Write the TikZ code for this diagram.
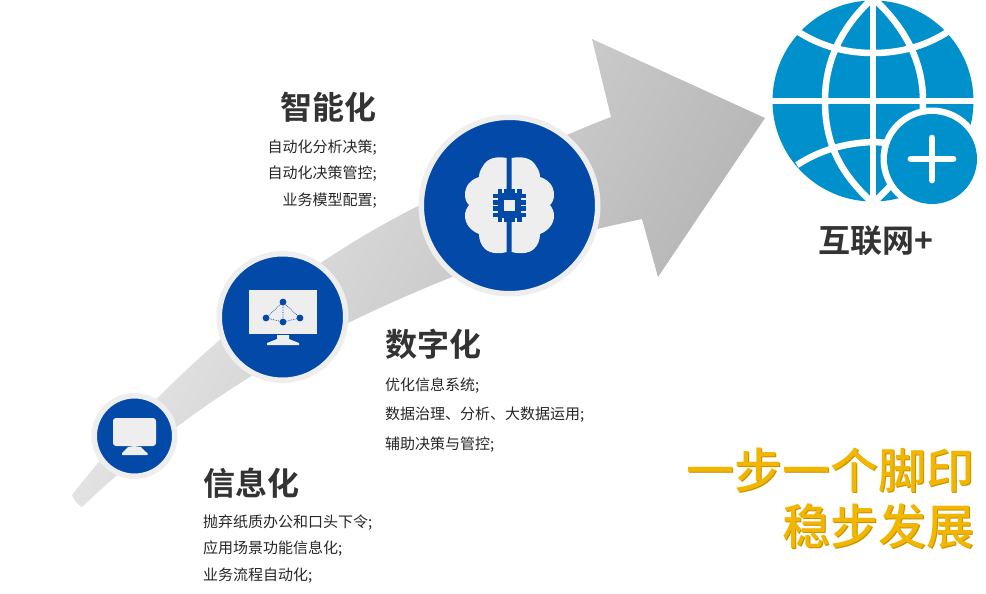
\documentclass[tikz,border=0pt]{standalone}
\usepackage{fontspec}
\setmainfont{Noto Sans CJK SC}
\newfontfamily\cjkb{Noto Sans CJK SC Bold}
\newfontfamily\cjkm{Noto Sans CJK SC Medium}
\usetikzlibrary{calc}
\definecolor{deep}{HTML}{0349A8}
\definecolor{ringc}{HTML}{EEEEEE}
\definecolor{globec}{HTML}{0090CC}
\definecolor{inkc}{HTML}{333333}
\definecolor{gold}{HTML}{F2B600}
\definecolor{goldd}{HTML}{C39200}
\tikzset{
  x=1pt,y=-1pt,
  head/.style={font=\cjkb\fontsize{32}{32}\selectfont,text=inkc,inner sep=0pt},
  small/.style={font=\fontsize{15}{15}\selectfont,text=black!85,inner sep=0pt},
  slogan/.style={font=\cjkm\fontsize{48}{48}\selectfont,text=gold,inner sep=0pt,anchor=east},
  sloganshade/.style={font=\cjkm\fontsize{48}{48}\selectfont,text=goldd,inner sep=0pt,anchor=east},
  badge/.style={circle,fill=deep,draw=ringc,inner sep=0pt},
  iconfill/.style={fill=ringc,draw=none},
  gline/.style={draw=white,line width=6.5pt},
}
\begin{document}
\begin{tikzpicture}
\useasboundingbox (0,0) rectangle (986,594);
% rising arrow
\shade[left color=black!7,middle color=black!26,right color=black!31,shading angle=62]
 (72,495) .. controls (150,395) and (270,280) .. (420,205)
 .. controls (480,175) and (550,140) .. (611,117)
 -- (592,39) -- (765,118) -- (658,277) -- (642,219)
 .. controls (600,228) and (520,245) .. (452,277)
 .. controls (300,338) and (190,405) .. (82,507)
 .. controls (78,505) and (74,500) .. (72,495) -- cycle;
% badges
\node[badge,line width=5.5pt,minimum size=176.5pt] (b3) at (509.5,205.5) {};
\node[badge,line width=5.5pt,minimum size=126.5pt] (b2) at (282.5,317) {};
\node[badge,line width=5.5pt,minimum size=80.5pt] (b1) at (134.5,436) {};
% monitor 1
\fill[iconfill,rounded corners=3pt] (113,418) rectangle (156,446);
\fill[iconfill] (128,447) -- (134,446) -- (141,447) -- (146,452) -- (147.5,453) -- (147.5,455) -- (122,455) -- (122,453) -- (123,452) -- cycle;
% monitor 2
\fill[iconfill] (249,290) rectangle (317,334);
\fill[iconfill] (277,335) -- (289,335) -- (289,339) -- (299,343) -- (299,345) -- (267,345) -- (267,343) -- (277,339) -- cycle;
\coordinate (n1) at (283,302);
\coordinate (n2) at (266,318);
\coordinate (n3) at (283,322);
\coordinate (n4) at (300,318);
\draw[deep,densely dotted,line width=.7pt] (n1) -- (n2) -- (n3) -- (n4) -- (n1) -- (n3);
\foreach \p in {n1,n2,n3,n4} \fill[deep] (\p) circle (3.4pt);
% brain
\fill[iconfill] (506.7,158) .. controls (497,156) and (487,158) .. (483,166)
 .. controls (480,170) and (479,174) .. (479,177) .. controls (470,180) and (465,186) .. (465,195)
 .. controls (465,200) and (467,203) .. (469,205) .. controls (466,209) and (465,212) .. (465,216)
 .. controls (465,224) and (471,231) .. (479,234) .. controls (479,240) and (481,245) .. (485,249)
 .. controls (491,254) and (500,254) .. (506.7,252) -- cycle;
\fill[iconfill] (511.7,158) .. controls (522,156) and (532,158) .. (536,166)
 .. controls (539,170) and (540,174) .. (540,177) .. controls (549,180) and (554,186) .. (554,195)
 .. controls (554,200) and (552,203) .. (550,205) .. controls (553,209) and (554,212) .. (554,216)
 .. controls (554,224) and (548,231) .. (540,234) .. controls (540,240) and (538,245) .. (534,249)
 .. controls (528,254) and (519,254) .. (511.7,252) -- cycle;
% chip
\fill[deep] (497.5,189) rectangle (521.5,222);
\fill[deep] (493,194) rectangle (526,217);
\foreach \yy in {199,205.5,212} {
  \fill[ringc] (493,\yy-1) rectangle (498,\yy+.6);
  \fill[ringc] (521,\yy-1) rectangle (526,\yy+.6);
}
\foreach \xx in {503,516} {
  \fill[ringc] (\xx-1,189) rectangle (\xx+1,193);
  \fill[ringc] (\xx-1,218) rectangle (\xx+1,222);
}
\fill[ringc] (504,200) rectangle (515,211);
% globe
\fill[globec] (873,101) circle (100.5pt);
\begin{scope}
\clip (873,101) circle (102pt);
\draw[gline] (873,-2) -- (873,204);
\draw[gline] (770,101) -- (976,101);
\draw[gline] (873,-2) .. controls (838,30) and (825,65) .. (825,101) .. controls (825,140) and (838,172) .. (873,203);
\draw[gline] (873,-2) .. controls (908,30) and (923,65) .. (923,101) .. controls (923,140) and (908,172) .. (873,203);
\draw[gline] (797,31) .. controls (820,46) and (845,53) .. (873,53) .. controls (901,53) and (926,46) .. (949,31);
\draw[gline] (797,165) .. controls (820,150) and (845,143) .. (873,142) .. controls (901,143) and (926,150) .. (949,165);
\end{scope}
\fill[white] (932,159) circle (51.5pt);
\fill[globec] (932,159) circle (45pt);
\draw[white,line width=6.8pt,line cap=round] (932,138) -- (932,180) (911,159) -- (953,159);
% headings
\node[head,anchor=east] (h3) at (376.5,107) {智能化};
\node[head,anchor=west] (h2) at (385,344) {数字化};
\node[head,anchor=west] (h1) at (203,483) {信息化};
\node[head,anchor=center] (h4) at (876,241) {互联网+};
% item text
\node[small,anchor=east] (t31) at (377,148) {自动化分析决策;};
\node[small,anchor=east] (t32) at (377,174) {自动化决策管控;};
\node[small,anchor=east] (t33) at (377,201) {业务模型配置;};
\node[small,anchor=west] (t21) at (385,386) {优化信息系统;};
\node[small,anchor=west] (t22) at (385,415) {数据治理、分析、大数据运用;};
\node[small,anchor=west] (t23) at (385,445) {辅助决策与管控;};
\node[small,anchor=west] (t11) at (203,523) {抛弃纸质办公和口头下令;};
\node[small,anchor=west] (t12) at (203,549) {应用场景功能信息化;};
\node[small,anchor=west] (t13) at (203,576) {业务流程自动化;};
% slogan
\node[sloganshade] (s1s) at (976,471) {一步一个脚印};
\node[sloganshade] (s2s) at (976,527) {稳步发展};
\node[slogan] (s1) at (975,470) {一步一个脚印};
\node[slogan] (s2) at (975,526) {稳步发展};
\end{tikzpicture}
\end{document}
